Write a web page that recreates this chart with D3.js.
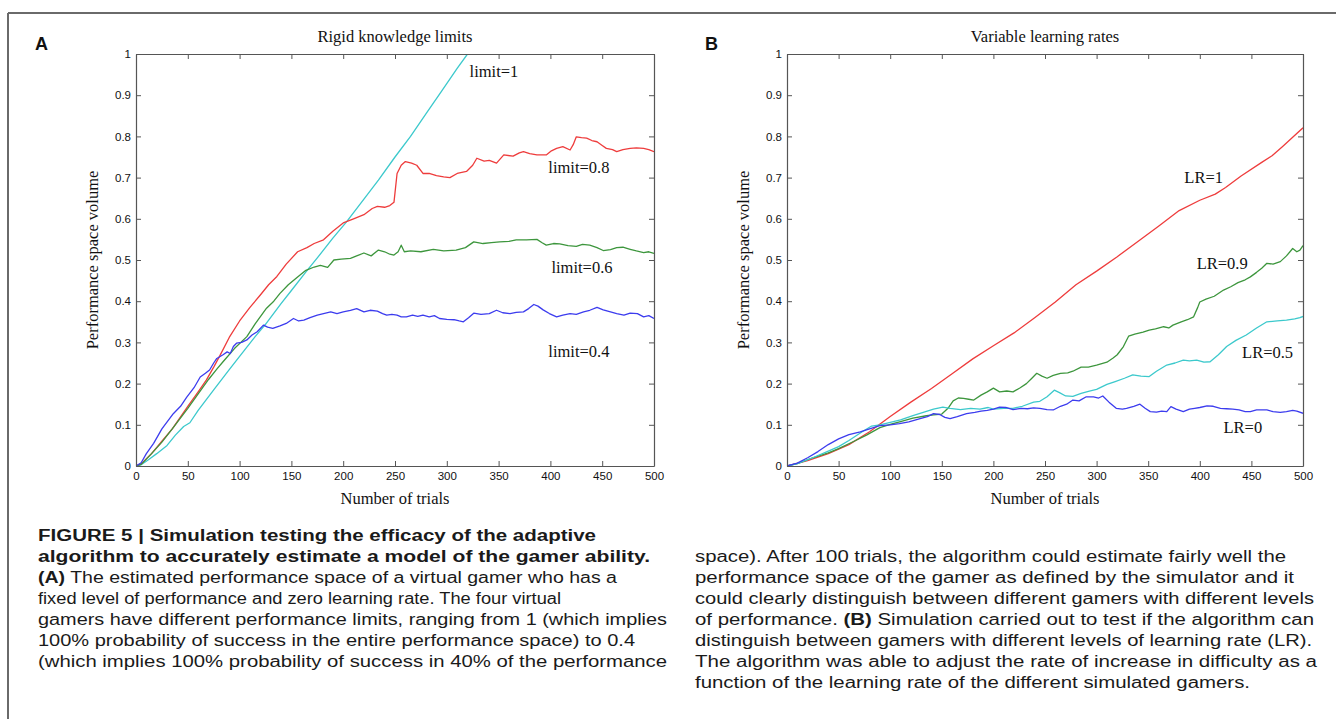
<!DOCTYPE html>
<html><head><meta charset="utf-8">
<script src="https://cdn.jsdelivr.net/npm/d3@7"></script>
<style>
body{margin:0;background:#fff;}
svg{display:block;}
</style></head>
<body>
<svg id="c" width="1336" height="719"></svg>
<script>
// ---------------- DATA ----------------
const xTicks = [0,50,100,150,200,250,300,350,400,450,500];
const yTicks = [0,0.1,0.2,0.3,0.4,0.5,0.6,0.7,0.8,0.9,1];
const yTickLabels = ["0","0.1","0.2","0.3","0.4","0.5","0.6","0.7","0.8","0.9","1"];

const titleA = "Rigid knowledge limits";
const titleB = "Variable learning rates";
const xLabel = "Number of trials";
const yLabel = "Performance space volume";

// Panel A: limit = 1 (cyan)
const aCyanX = [0,5,12,20,30,38,46,52,60,75,90,100,115,125,140,150,165,175,190,203,220,234,250,265,280,295,310,320,326];
const aCyanY = [0,0.003,0.015,0.03,0.05,0.075,0.096,0.105,0.135,0.185,0.234,0.266,0.314,0.344,0.394,0.426,0.474,0.505,0.553,0.592,0.648,0.694,0.75,0.80,0.855,0.91,0.965,1.0,1.02];
// Panel A: limit = 0.8 (red)
const aRedX = [0,5,15,25,35,50,60,68,75,81,90,100,110,120,128,136,145,156,165,172,181,190,200,210,220,228,233,240,245,249,252,256,260,266,271,277,283,290,297,303,310,319,325,329,336,341,348,355,364,370,374,380,387,396,401,406,412,419,422,425,430,435,440,445,450,454,460,464,470,477,483,490,495,500];
const aRedY = [0,0.005,0.03,0.06,0.09,0.145,0.18,0.209,0.24,0.268,0.312,0.352,0.385,0.415,0.44,0.46,0.49,0.52,0.53,0.54,0.549,0.57,0.59,0.60,0.61,0.625,0.63,0.628,0.632,0.64,0.71,0.73,0.739,0.735,0.73,0.71,0.71,0.705,0.702,0.70,0.71,0.715,0.73,0.747,0.74,0.742,0.735,0.755,0.752,0.76,0.763,0.758,0.755,0.755,0.765,0.771,0.775,0.767,0.78,0.799,0.797,0.796,0.79,0.787,0.778,0.771,0.768,0.763,0.768,0.771,0.772,0.771,0.768,0.763];
// Panel A: limit = 0.6 (green)
const aGreenX = [0,5,15,25,35,50,60,70,78,84,95,107,115,126,133,139,147,156,164,172,178,185,191,198,207,213,220,227,234,240,245,249,253,256,259,265,275,287,297,309,318,326,335,343,351,360,367,377,387,392,396,403,409,417,425,431,438,445,451,458,464,470,477,483,490,495,500];
const aGreenY = [0,0.004,0.03,0.058,0.09,0.14,0.175,0.21,0.235,0.253,0.285,0.314,0.345,0.383,0.40,0.419,0.44,0.459,0.475,0.483,0.487,0.482,0.5,0.502,0.504,0.51,0.517,0.51,0.524,0.52,0.514,0.512,0.52,0.536,0.52,0.522,0.52,0.526,0.522,0.524,0.53,0.544,0.54,0.542,0.544,0.545,0.549,0.549,0.55,0.542,0.536,0.54,0.539,0.535,0.533,0.538,0.536,0.53,0.523,0.525,0.53,0.531,0.526,0.522,0.518,0.52,0.516];
// Panel A: limit = 0.4 (blue)
const aBlueX = [0,5,10,17,25,36,43,49,56,62,67,71,75,78,84,88,91,94,97,102,107,112,117,123,127,132,139,145,152,157,162,168,175,181,188,194,200,207,213,220,226,233,238,242,247,252,256,261,267,272,277,283,288,293,300,307,312,316,321,326,333,341,348,354,361,367,374,379,384,388,393,399,406,412,419,425,432,438,445,451,458,464,471,477,484,490,495,500];
const aBlueY = [0,0.008,0.03,0.055,0.09,0.127,0.145,0.167,0.19,0.216,0.225,0.233,0.25,0.261,0.27,0.277,0.273,0.29,0.298,0.3,0.306,0.318,0.326,0.342,0.337,0.334,0.34,0.346,0.358,0.352,0.354,0.36,0.366,0.37,0.374,0.37,0.374,0.378,0.382,0.374,0.378,0.376,0.37,0.366,0.368,0.366,0.362,0.362,0.366,0.363,0.366,0.362,0.365,0.358,0.356,0.355,0.352,0.35,0.36,0.371,0.368,0.37,0.378,0.372,0.37,0.373,0.374,0.382,0.392,0.388,0.379,0.37,0.362,0.366,0.37,0.368,0.374,0.378,0.385,0.379,0.374,0.37,0.366,0.371,0.37,0.362,0.365,0.358];

// Panel B: LR = 1 (red)
const bRedX = [0,20,40,60,80,100,120,140,160,180,200,220,240,260,280,300,320,340,360,380,400,415,425,440,460,470,480,490,500];
const bRedY = [0,0.013,0.03,0.052,0.083,0.12,0.155,0.188,0.224,0.26,0.292,0.323,0.36,0.398,0.44,0.473,0.508,0.545,0.582,0.62,0.645,0.66,0.676,0.704,0.737,0.753,0.775,0.798,0.821];
// Panel B: LR = 0.9 (green)
const bGreenX = [0,10,25,40,50,65,77,90,100,110,122,135,142,150,156,161,166,171,176,181,188,194,200,206,213,219,226,232,238,242,247,252,258,265,272,277,285,292,300,310,316,320,326,331,337,345,351,357,365,370,374,382,388,394,398,400,406,414,423,430,437,444,449,455,460,465,471,478,484,490,494,497,500];
const bGreenY = [0,0.006,0.02,0.032,0.042,0.06,0.075,0.093,0.101,0.108,0.116,0.122,0.124,0.126,0.14,0.158,0.165,0.164,0.162,0.16,0.172,0.18,0.189,0.18,0.182,0.18,0.19,0.2,0.215,0.225,0.218,0.213,0.22,0.225,0.226,0.23,0.24,0.24,0.245,0.252,0.262,0.27,0.29,0.315,0.32,0.325,0.33,0.333,0.338,0.335,0.342,0.35,0.355,0.362,0.385,0.398,0.405,0.412,0.427,0.435,0.445,0.452,0.459,0.47,0.48,0.492,0.49,0.496,0.51,0.528,0.52,0.524,0.535];
// Panel B: LR = 0.5 (cyan)
const bCyanX = [0,10,25,40,50,60,74,82,90,100,110,122,132,142,151,158,168,178,187,195,200,210,219,228,239,245,252,259,264,270,277,285,293,300,310,318,327,335,343,351,358,368,376,384,390,397,404,410,418,426,435,445,455,465,475,484,492,497,500];
const bCyanY = [0,0.006,0.02,0.036,0.047,0.062,0.085,0.097,0.1,0.106,0.112,0.122,0.13,0.138,0.143,0.14,0.137,0.14,0.138,0.142,0.138,0.14,0.14,0.145,0.155,0.157,0.168,0.184,0.178,0.17,0.169,0.176,0.182,0.186,0.198,0.205,0.213,0.221,0.218,0.217,0.23,0.245,0.25,0.257,0.255,0.257,0.252,0.253,0.27,0.29,0.305,0.318,0.335,0.35,0.352,0.354,0.357,0.36,0.363];
// Panel B: LR = 0 (blue)
const bBlueX = [0,10,20,30,40,50,60,71,80,90,100,109,118,129,136,142,148,153,158,165,174,182,188,194,200,206,212,219,227,233,239,245,252,258,265,271,277,283,290,297,302,306,312,319,325,329,336,342,347,352,358,363,368,372,377,384,390,395,400,407,413,420,426,432,438,444,449,455,460,465,471,478,484,490,494,500];
const bBlueY = [0,0.007,0.02,0.035,0.052,0.066,0.076,0.083,0.09,0.098,0.1,0.103,0.107,0.115,0.12,0.127,0.125,0.118,0.115,0.12,0.127,0.13,0.133,0.135,0.138,0.143,0.142,0.137,0.14,0.139,0.141,0.14,0.137,0.136,0.145,0.15,0.16,0.158,0.168,0.168,0.165,0.17,0.155,0.14,0.138,0.14,0.145,0.15,0.14,0.132,0.131,0.133,0.132,0.144,0.138,0.132,0.138,0.14,0.142,0.146,0.145,0.14,0.139,0.138,0.136,0.132,0.132,0.136,0.136,0.136,0.132,0.13,0.132,0.135,0.133,0.128];

const seriesA = [
  {name:"limit=1",   xs:aCyanX,  ys:aCyanY,  color:"#3cc9cc"},
  {name:"limit=0.8", xs:aRedX,   ys:aRedY,   color:"#ee3c3c"},
  {name:"limit=0.6", xs:aGreenX, ys:aGreenY, color:"#3d963d"},
  {name:"limit=0.4", xs:aBlueX,  ys:aBlueY,  color:"#3c3cee"}
];
const seriesB = [
  {name:"LR=1",   xs:bRedX,   ys:bRedY,   color:"#ee3c3c"},
  {name:"LR=0.9", xs:bGreenX, ys:bGreenY, color:"#3d963d"},
  {name:"LR=0.5", xs:bCyanX,  ys:bCyanY,  color:"#3cc9cc"},
  {name:"LR=0",   xs:bBlueX,  ys:bBlueY,  color:"#3c3cee"}
];
// label anchor positions in data units (trial, value)
const labelsA = [["limit=1",322,0.944],["limit=0.8",398,0.712],["limit=0.6",401,0.468],["limit=0.4",398,0.264]];
const labelsB = [["LR=1",385,0.686],["LR=0.9",397,0.479],["LR=0.5",441,0.262],["LR=0",423,0.08]];

const captionLeft = [
  [[["FIGURE 5 | Simulation testing the efficacy of the adaptive",true]],596],
  [[["algorithm to accurately estimate a model of the gamer ability.",true]],650],
  [[["(A)",true],[" The estimated performance space of a virtual gamer who has a",false]],617],
  [[["fixed level of performance and zero learning rate. The four virtual",false]],561],
  [[["gamers have different performance limits, ranging from 1 (which implies",false]],667],
  [[["100% probability of success in the entire performance space) to 0.4",false]],635],
  [[["(which implies 100% probability of success in 40% of the performance",false]],667]
];
const captionRight = [
  [[["space). After 100 trials, the algorithm could estimate fairly well the",false]],1286],
  [[["performance space of the gamer as defined by the simulator and it",false]],1294],
  [[["could clearly distinguish between different gamers with different levels",false]],1314],
  [[["of performance. ",false],["(B)",true],[" Simulation carried out to test if the algorithm can",false]],1314],
  [[["distinguish between gamers with different levels of learning rate (LR).",false]],1312],
  [[["The algorithm was able to adjust the rate of increase in difficulty as a",false]],1317],
  [[["function of the learning rate of the different simulated gamers.",false]],1250]
];

// ---------------- DRAW ----------------
const svg = d3.select("#c");
const serif = "'Liberation Serif','Times New Roman',serif";
const sans = "'Liberation Sans',Arial,sans-serif";

// outer frame
svg.append("line").attr("x1",8).attr("x2",1336).attr("y1",13).attr("y2",13).attr("stroke","#6a6a6a").attr("stroke-width",2);
svg.append("line").attr("x1",8).attr("x2",8).attr("y1",13).attr("y2",719).attr("stroke","#6a6a6a").attr("stroke-width",2);

function panel(id, left, right, series, title, labels, letter, letterX){
  const top = 54, bottom = 466;
  const x = d3.scaleLinear().domain([0,500]).range([left,right]);
  const y = d3.scaleLinear().domain([0,1]).range([bottom,top]);
  const g = svg.append("g");
  const axisColor = "#555";

  g.append("clipPath").attr("id","clip"+id).append("rect")
    .attr("x",left).attr("y",top).attr("width",right-left).attr("height",bottom-top);

  const lines = g.append("g").attr("clip-path","url(#clip"+id+")");
  series.forEach(s=>{
    const pts = s.xs.map((v,i)=>[v,s.ys[i]]);
    lines.append("path").datum(pts)
      .attr("d", d3.line().x(d=>x(d[0])).y(d=>y(d[1])))
      .attr("fill","none").attr("stroke",s.color).attr("stroke-width",1.3)
      .attr("stroke-linejoin","round");
  });

  const fmt = (d,i)=>yTickLabels[yTicks.indexOf(d)];
  const ax = [
    g.append("g").attr("transform",`translate(0,${bottom})`).call(d3.axisBottom(x).tickValues(xTicks).tickSizeInner(-5).tickSizeOuter(0).tickPadding(6)),
    g.append("g").attr("transform",`translate(0,${top})`).call(d3.axisTop(x).tickValues(xTicks).tickSizeInner(-5).tickSizeOuter(0).tickFormat("")),
    g.append("g").attr("transform",`translate(${left},0)`).call(d3.axisLeft(y).tickValues(yTicks).tickSizeInner(-5).tickSizeOuter(0).tickPadding(5).tickFormat(fmt)),
    g.append("g").attr("transform",`translate(${right},0)`).call(d3.axisRight(y).tickValues(yTicks).tickSizeInner(-5).tickSizeOuter(0).tickFormat(""))
  ];
  ax.forEach(a=>{
    a.selectAll("path.domain").attr("stroke",axisColor).attr("stroke-width",1.2);
    a.selectAll(".tick line").attr("stroke",axisColor).attr("stroke-width",1);
    a.selectAll("text").attr("font-family",sans).attr("font-size",11.5).attr("fill","#111");
  });

  g.append("text").attr("x",(left+right)/2).attr("y",42).attr("text-anchor","middle")
    .attr("font-family",serif).attr("font-size",16.5).attr("fill","#111").text(title);
  g.append("text").attr("x",(left+right)/2).attr("y",504).attr("text-anchor","middle")
    .attr("font-family",serif).attr("font-size",16.5).attr("fill","#111").text(xLabel);
  g.append("text").attr("transform",`translate(${left-38},${(top+bottom)/2}) rotate(-90)`)
    .attr("text-anchor","middle").attr("font-family",serif).attr("font-size",16.5).attr("fill","#111").text(yLabel);

  labels.forEach(l=>{
    g.append("text").attr("x",x(l[1])).attr("y",y(l[2])).attr("font-family",serif)
      .attr("font-size",16.5).attr("fill","#111").text(l[0]);
  });

  svg.append("text").attr("x",letterX).attr("y",50).attr("font-family",sans)
    .attr("font-weight","bold").attr("font-size",18).attr("fill","#111").text(letter);
}

panel("A",136,654,seriesA,titleA,labelsA,"A",35);
panel("B",787,1303,seriesB,titleB,labelsB,"B",705);

function caption(lines, x0, y0){
  lines.forEach((ln,i)=>{
    const t = svg.append("text").attr("x",x0).attr("y",y0+i*21)
      .attr("font-family","'Liberation Sans Narrow','Liberation Sans',Arial,sans-serif")
      .attr("font-size",16).attr("fill","#1a1a1a")
      .attr("textLength",ln[1]-x0).attr("lengthAdjust","spacingAndGlyphs")
      .attr("xml:space","preserve");
    ln[0].forEach(seg=>{
      t.append("tspan").attr("font-weight",seg[1]?"bold":"normal").text(seg[0]);
    });
  });
}
caption(captionLeft,38,541);
caption(captionRight,695,562);
</script>
</body></html>
